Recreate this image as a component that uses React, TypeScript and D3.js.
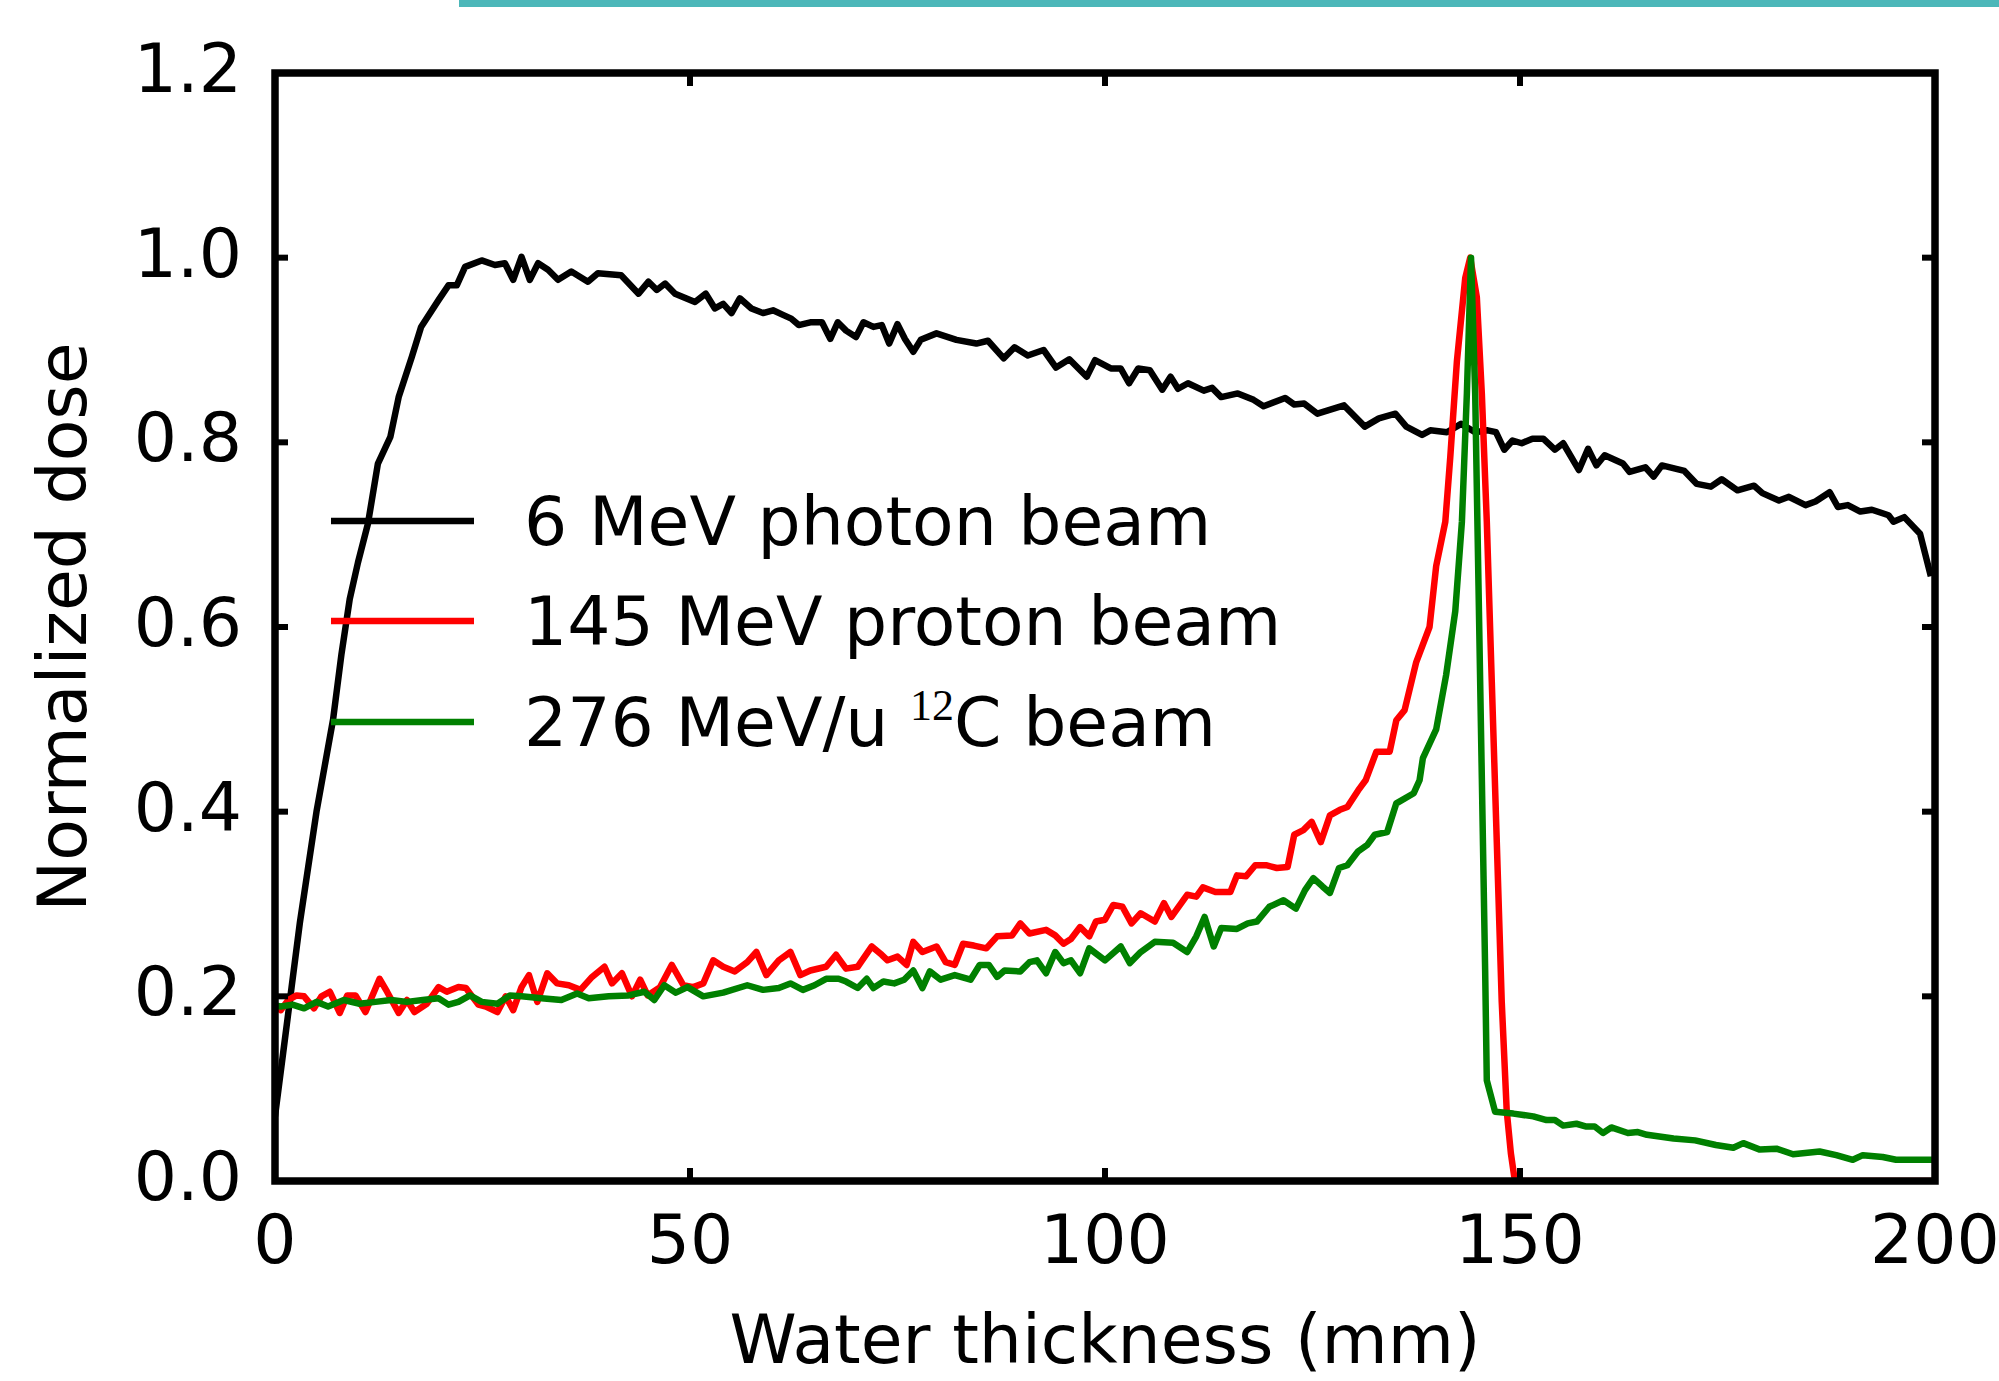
import React from 'react';
import * as d3 from 'd3';

// depth (mm) / normalized dose
const photonDepth = [0, 1, 2, 3, 4, 5, 6, 7, 8, 9, 10, 11.2, 12.4, 13.9, 14.9, 16.5, 17.6, 19.7, 20.9, 21.9, 22.9, 24.9, 26.5, 27.7, 28.7, 29.7, 30.7, 31.7, 32.9, 34.1, 35.7, 37.7, 38.9, 41.7, 43.8, 45.0, 46.0, 47.0, 48.2, 50.6, 51.9, 53.0, 54.0, 55.0, 56.0, 57.4, 58.8, 60.0, 61.2, 62.2, 63.1, 64.5, 65.9, 66.9, 67.8, 68.8, 70.0, 70.9, 72.1, 73.1, 74.0, 75.0, 75.9, 76.9, 77.8, 79.7, 82.1, 84.5, 85.9, 87.8, 89.1, 90.7, 92.6, 94.1, 95.7, 97.8, 98.8, 100.7, 101.9, 102.9, 104.0, 105.4, 106.9, 107.9, 108.8, 110.0, 111.9, 112.9, 114.0, 116.0, 117.9, 119.1, 121.7, 122.8, 124.0, 125.6, 128.8, 131.3, 133.0, 135.0, 136.3, 138.2, 139.2, 141.2, 142.9, 144.6, 146.1, 147.1, 148.1, 149.1, 150.2, 151.5, 152.8, 154.2, 155.2, 157.1, 158.2, 159.2, 160.2, 162.4, 163.2, 165.1, 166.1, 167.1, 169.8, 171.3, 173.0, 174.3, 176.2, 178.2, 179.2, 181.2, 182.4, 184.4, 185.6, 187.3, 188.3, 189.5, 191.0, 192.4, 194.4, 195.0, 196.3, 198.2, 199.5];
const photonDose = [0.07, 0.14, 0.21, 0.28, 0.34, 0.40, 0.45, 0.50, 0.57, 0.63, 0.67, 0.712, 0.777, 0.806, 0.849, 0.893, 0.925, 0.954, 0.970, 0.970, 0.99, 0.997, 0.992, 0.994, 0.976, 1.001, 0.976, 0.994, 0.987, 0.976, 0.985, 0.974, 0.983, 0.981, 0.961, 0.974, 0.965, 0.972, 0.961, 0.952, 0.961, 0.945, 0.950, 0.940, 0.956, 0.945, 0.940, 0.943, 0.938, 0.934, 0.927, 0.930, 0.930, 0.912, 0.930, 0.921, 0.914, 0.930, 0.925, 0.927, 0.907, 0.928, 0.912, 0.898, 0.911, 0.918, 0.911, 0.907, 0.910, 0.891, 0.903, 0.894, 0.900, 0.881, 0.890, 0.871, 0.889, 0.880, 0.880, 0.864, 0.880, 0.878, 0.857, 0.871, 0.858, 0.864, 0.856, 0.859, 0.849, 0.853, 0.846, 0.839, 0.848, 0.841, 0.842, 0.831, 0.840, 0.817, 0.826, 0.831, 0.817, 0.808, 0.813, 0.811, 0.820, 0.811, 0.813, 0.811, 0.792, 0.802, 0.799, 0.804, 0.804, 0.792, 0.799, 0.770, 0.793, 0.775, 0.786, 0.777, 0.768, 0.773, 0.763, 0.775, 0.769, 0.755, 0.752, 0.760, 0.748, 0.753, 0.745, 0.737, 0.741, 0.732, 0.736, 0.746, 0.730, 0.732, 0.725, 0.727, 0.721, 0.714, 0.719, 0.701, 0.655];

const protonDepth = [0, 0.7, 1.6, 2.6, 3.5, 4.7, 5.6, 6.6, 7.8, 8.7, 9.7, 10.9, 12.6, 13.5, 14.9, 15.9, 16.8, 18.3, 19.7, 20.7, 22.1, 23.0, 24.5, 25.4, 26.8, 27.8, 28.7, 29.7, 30.6, 31.6, 32.8, 34.0, 35.4, 36.8, 38.2, 39.7, 40.6, 41.8, 43.0, 44.0, 44.9, 46.4, 47.8, 49.2, 50.4, 51.6, 52.8, 54.0, 55.4, 56.9, 58.0, 59.2, 60.7, 62.1, 63.3, 64.5, 66.4, 67.6, 68.8, 70.2, 71.9, 73.1, 73.8, 75.0, 76.1, 76.9, 78.0, 79.7, 80.8, 81.9, 82.9, 84.2, 85.7, 87.0, 88.8, 89.8, 90.9, 92.9, 94.0, 95.0, 95.9, 97.0, 98.1, 98.9, 100.0, 101.0, 102.1, 103.2, 104.3, 106.0, 107.1, 108.0, 109.9, 111.0, 111.8, 113.3, 115.1, 115.9, 117.0, 118.1, 119.4, 120.7, 122.0, 122.8, 123.9, 124.9, 126.0, 127.1, 128.3, 129.2, 130.5, 131.4, 132.7, 134.3, 135.1, 136.1, 137.5, 139.1, 139.9, 141.0, 141.6, 142.4, 143.4, 144.0, 144.8, 145.4, 146.0, 146.6, 147.2, 147.8, 148.4, 148.9, 149.3, 150, 200];
const protonDose = [0.19, 0.185, 0.196, 0.201, 0.2, 0.187, 0.2, 0.205, 0.182, 0.201, 0.201, 0.183, 0.219, 0.205, 0.182, 0.196, 0.183, 0.192, 0.210, 0.205, 0.210, 0.209, 0.191, 0.189, 0.183, 0.2, 0.185, 0.210, 0.223, 0.194, 0.225, 0.214, 0.212, 0.207, 0.221, 0.232, 0.214, 0.225, 0.2, 0.218, 0.201, 0.210, 0.234, 0.212, 0.210, 0.214, 0.239, 0.232, 0.227, 0.237, 0.248, 0.223, 0.239, 0.248, 0.223, 0.228, 0.232, 0.245, 0.230, 0.232, 0.254, 0.245, 0.239, 0.243, 0.234, 0.259, 0.248, 0.254, 0.237, 0.234, 0.257, 0.255, 0.252, 0.265, 0.266, 0.279, 0.268, 0.272, 0.266, 0.257, 0.262, 0.275, 0.265, 0.281, 0.283, 0.299, 0.297, 0.279, 0.290, 0.281, 0.301, 0.286, 0.310, 0.308, 0.318, 0.313, 0.313, 0.331, 0.330, 0.342, 0.342, 0.339, 0.340, 0.375, 0.380, 0.389, 0.367, 0.396, 0.402, 0.405, 0.423, 0.434, 0.465, 0.465, 0.499, 0.510, 0.562, 0.600, 0.666, 0.714, 0.784, 0.888, 0.978, 1.0, 0.957, 0.853, 0.714, 0.541, 0.368, 0.194, 0.076, 0.030, 0.005, 0, 0];

const carbonDepth = [0, 0.7, 2.1, 3.5, 5.0, 6.4, 8.3, 10.2, 12.1, 14.0, 15.9, 17.8, 19.7, 20.9, 22.1, 23.5, 24.9, 26.8, 28.3, 29.7, 32.1, 34.5, 36.4, 37.8, 40.2, 42.6, 44.5, 45.7, 46.9, 48.3, 49.7, 51.6, 54.0, 56.9, 58.8, 60.7, 62.1, 63.6, 65.0, 66.4, 67.9, 68.8, 70.2, 71.3, 72.1, 73.3, 74.6, 75.8, 76.9, 78.0, 78.9, 80.2, 81.9, 83.8, 84.9, 86.0, 87.0, 87.9, 89.8, 90.9, 91.8, 92.9, 94.0, 95.0, 95.9, 97.0, 98.1, 100.0, 101.9, 103.0, 104.3, 106.0, 108.2, 109.9, 111.0, 112.0, 113.1, 114.0, 115.9, 117.2, 118.3, 119.8, 121.5, 123.0, 124.1, 125.1, 126.2, 127.1, 128.2, 129.2, 130.5, 131.6, 132.5, 134.0, 135.1, 137.2, 137.9, 138.3, 139.9, 141.1, 142.2, 143.0, 143.6, 144.1, 144.6, 145.0, 145.4, 145.8, 146.0, 147.0, 149.2, 151.6, 153.2, 154.2, 155.2, 156.8, 158.0, 159.0, 160.0, 161.0, 163.0, 164.2, 165.3, 168.5, 171.1, 173.6, 175.7, 176.9, 178.9, 180.9, 182.9, 186.1, 188.1, 190.1, 191.3, 193.7, 195.3, 200];
const carbonDose = [0.19, 0.189, 0.191, 0.187, 0.194, 0.189, 0.196, 0.192, 0.194, 0.196, 0.194, 0.196, 0.198, 0.191, 0.194, 0.201, 0.194, 0.192, 0.201, 0.2, 0.198, 0.196, 0.203, 0.198, 0.2, 0.201, 0.205, 0.196, 0.212, 0.204, 0.210, 0.2, 0.204, 0.212, 0.207, 0.209, 0.214, 0.207, 0.212, 0.219, 0.219, 0.216, 0.209, 0.219, 0.209, 0.216, 0.214, 0.218, 0.228, 0.209, 0.227, 0.218, 0.223, 0.218, 0.234, 0.234, 0.221, 0.228, 0.227, 0.237, 0.239, 0.225, 0.248, 0.236, 0.239, 0.225, 0.252, 0.239, 0.254, 0.236, 0.248, 0.259, 0.258, 0.248, 0.265, 0.286, 0.254, 0.274, 0.273, 0.279, 0.281, 0.297, 0.304, 0.295, 0.315, 0.328, 0.319, 0.312, 0.339, 0.342, 0.357, 0.364, 0.375, 0.378, 0.409, 0.420, 0.434, 0.458, 0.489, 0.548, 0.617, 0.714, 0.853, 1.0, 0.853, 0.645, 0.437, 0.229, 0.109, 0.075, 0.073, 0.070, 0.066, 0.066, 0.060, 0.062, 0.059, 0.059, 0.052, 0.058, 0.052, 0.053, 0.050, 0.046, 0.044, 0.039, 0.036, 0.041, 0.034, 0.035, 0.029, 0.032, 0.028, 0.023, 0.028, 0.026, 0.023, 0.023];

const xTicks = [0, 50, 100, 150, 200];
const yTicks = [0.0, 0.2, 0.4, 0.6, 0.8, 1.0, 1.2];

const seriesNames = ['6 MeV photon beam', '145 MeV proton beam', '276 MeV/u', 'C beam'];

const FONT = 'DejaVu Sans, sans-serif';
const FS = 68;

const App = () => {
  const width = 1999;
  const height = 1381;
  const left = 275, right = 1935, top = 73, bottom = 1181;

  const x = d3.scaleLinear().domain([0, 200]).range([left, right]);
  const y = d3.scaleLinear().domain([0, 1.2]).range([bottom, top]);

  const makePath = (depth: number[], dose: number[]) =>
    d3.line<number>()
      .x((i) => x(depth[i]))
      .y((i) => y(dose[i]))(depth.map((d, i) => i)) || '';

  const series = [
    { depth: photonDepth, dose: photonDose, color: '#000000' },
    { depth: protonDepth, dose: protonDose, color: '#ff0000' },
    { depth: carbonDepth, dose: carbonDose, color: '#008000' },
  ];

  const legendY = [521, 621, 722];
  const tickLen = 13;

  return (
    <svg width={width} height={height} style={{ position: 'absolute', left: 0, top: 0, background: '#fff' }}>
      <rect x={0} y={0} width={width} height={height} fill="#ffffff" />
      <rect x={459} y={0} width={width - 459} height={7} fill="#4cb7b9" />

      <defs>
        <clipPath id="plotClip">
          <rect x={left} y={top} width={right - left} height={bottom - top} />
        </clipPath>
      </defs>

      <g clipPath="url(#plotClip)">
        {series.map((s, i) => (
          <path key={i} d={makePath(s.depth, s.dose)} fill="none" stroke={s.color}
            strokeWidth={6.5} strokeLinejoin="round" />
        ))}
      </g>

      {/* legend */}
      {series.map((s, i) => (
        <line key={'l' + i} x1={331} x2={474} y1={legendY[i]} y2={legendY[i]} stroke={s.color} strokeWidth={6.5} />
      ))}
      <g fontFamily={FONT} fontSize={FS} fill="#000">
        <text x={524} y={legendY[0] + 24}>{seriesNames[0]}</text>
        <text x={524} y={legendY[1] + 24}>{seriesNames[1]}</text>
        <text x={524} y={legendY[2] + 24}>
          {seriesNames[2] + ' '}
          <tspan fontFamily="Liberation Serif, serif" fontSize={44} dy={-26}>12</tspan>
          <tspan dy={26}>{seriesNames[3]}</tspan>
        </text>
      </g>

      {/* ticks, inward on all sides */}
      <g stroke="#000" strokeWidth={6}>
        {xTicks.map((t) => (
          <g key={'xt' + t}>
            <line x1={x(t)} x2={x(t)} y1={bottom} y2={bottom - tickLen} />
            <line x1={x(t)} x2={x(t)} y1={top} y2={top + tickLen} />
          </g>
        ))}
        {yTicks.map((t) => (
          <g key={'yt' + t}>
            <line x1={left} x2={left + tickLen} y1={y(t)} y2={y(t)} />
            <line x1={right} x2={right - tickLen} y1={y(t)} y2={y(t)} />
          </g>
        ))}
      </g>

      <rect x={left} y={top} width={right - left} height={bottom - top} fill="none" stroke="#000" strokeWidth={7.5} />

      <g fontFamily={FONT} fontSize={FS} fill="#000">
        {xTicks.map((t) => (
          <text key={'xl' + t} x={x(t)} y={bottom + 82} textAnchor="middle">{t}</text>
        ))}
        {yTicks.map((t) => (
          <text key={'yl' + t} x={left - 33} y={y(t) + 19} textAnchor="end">{d3.format('.1f')(t)}</text>
        ))}
        <text x={(left + right) / 2} y={1363} textAnchor="middle">Water thickness (mm)</text>
        <text transform={`translate(86, ${(top + bottom) / 2}) rotate(-90)`} textAnchor="middle">Normalized dose</text>
      </g>
    </svg>
  );
};

export default App;
